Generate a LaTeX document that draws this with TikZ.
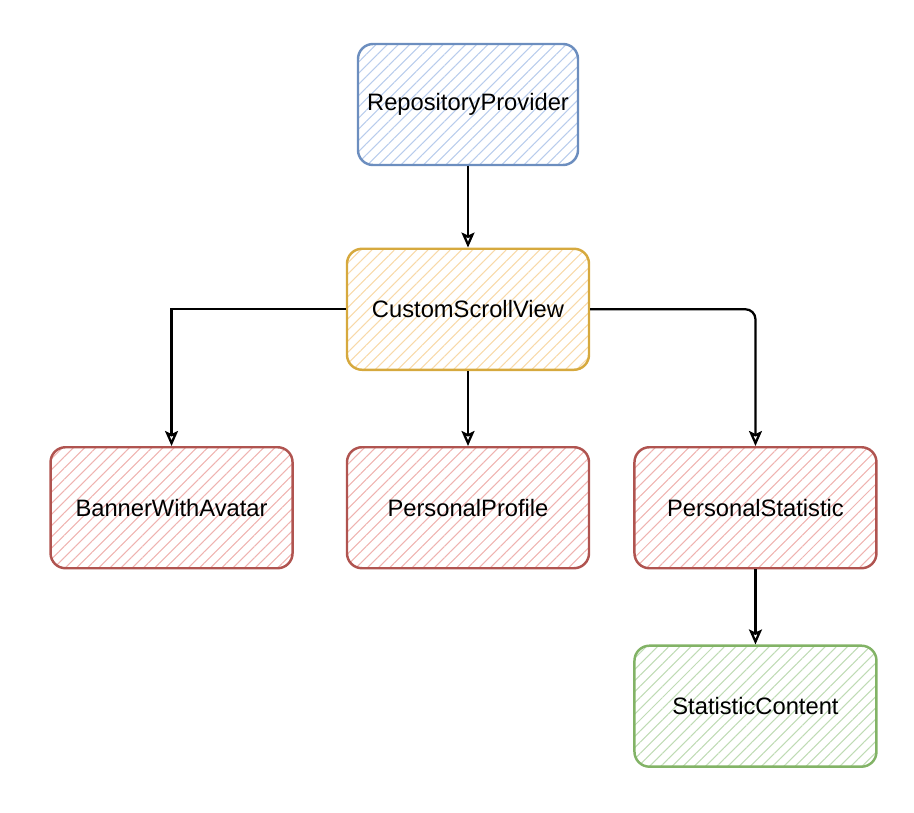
\documentclass[tikz,border=0pt]{standalone}
\usepackage{fontspec}
\setmainfont{Liberation Sans}
\usepackage{xcolor}
\usepackage{tikz}
\usetikzlibrary{positioning, arrows.meta, patterns.meta}

\definecolor{blueline}{HTML}{6C8EBF}
\definecolor{bluefill}{HTML}{B8CCEC}
\definecolor{orangeline}{HTML}{D6A93E}
\definecolor{orangefill}{HTML}{F8D9A8}
\definecolor{redline}{HTML}{B05450}
\definecolor{redfill}{HTML}{EFB3B0}
\definecolor{greenline}{HTML}{82B366}
\definecolor{greenfill}{HTML}{BFDBB4}

\begin{document}
\begin{tikzpicture}[
  font=\fontsize{13.5}{16}\selectfont,
  >={Stealth[open, length=3mm, width=2.6mm, inset=0.6mm]},
  box/.style={draw, line width=1.4pt, rounded corners=3mm, inner sep=0pt,
    minimum width=4.84cm, minimum height=2.42cm, align=center},
  hatch/.style={pattern={Lines[angle=45, distance=4.5pt, line width=0.6pt]}, pattern color=#1},
  arr/.style={->, line width=1.3pt, black}
]
  \useasboundingbox (0,0) rectangle (18.28,-16.24);

  \node[box, hatch=bluefill, draw=blueline, minimum width=4.4cm] (provider) at (9.36,-2.09) {RepositoryProvider};

  \node[box, hatch=orangefill, draw=orangeline, below=1.64cm of provider] (scroll) {CustomScrollView};

  \node[box, hatch=redfill, draw=redline, below=1.5cm of scroll] (profile) {PersonalProfile};
  \node[box, hatch=redfill, draw=redline, left=1.04cm of profile] (banner) {BannerWithAvatar};
  \node[box, hatch=redfill, draw=redline, right=0.86cm of profile] (statistic) {PersonalStatistic};

  \node[box, hatch=greenfill, draw=greenline, below=1.5cm of statistic] (content) {StatisticContent};

  \draw[arr] (provider.south) -- (scroll.north);
  \draw[arr] (scroll.west) -| (banner.north);
  \draw[arr] (scroll.south) -- (profile.north);
  \draw[arr, rounded corners=2mm] (scroll.east) -| (statistic.north);
  \draw[arr] (statistic.south) -- (content.north);
\end{tikzpicture}
\end{document}
